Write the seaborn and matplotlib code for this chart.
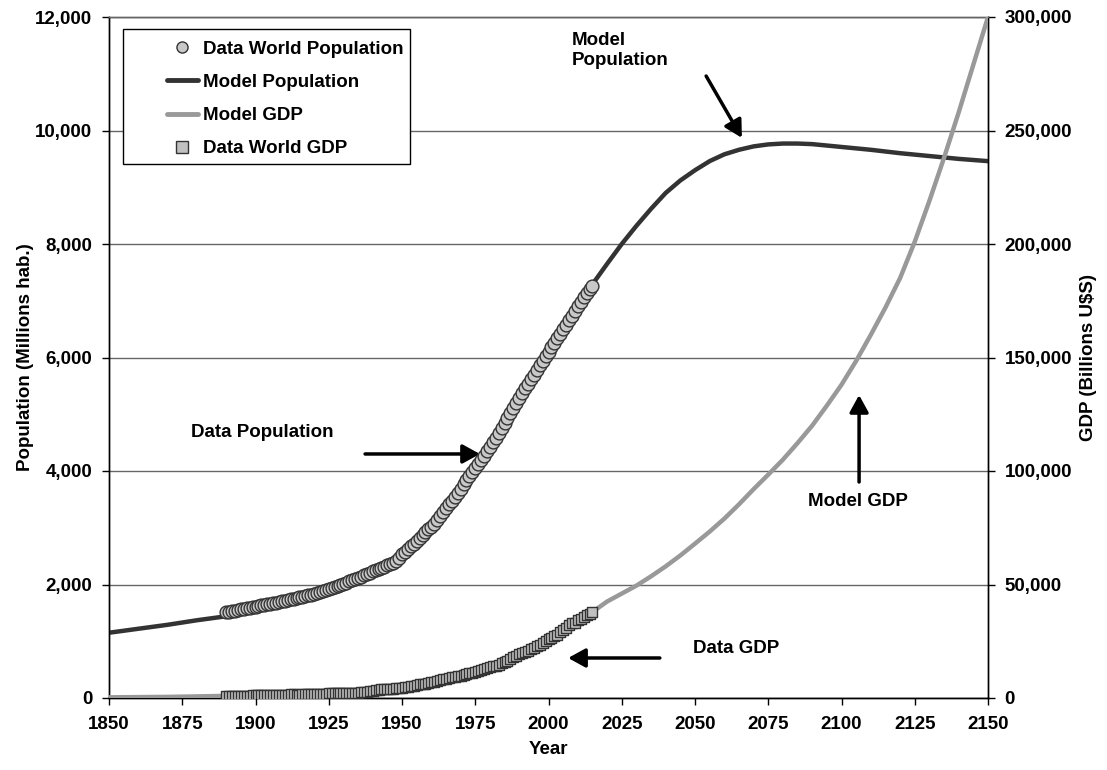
import matplotlib
matplotlib.use("Agg")
import matplotlib.pyplot as plt
import seaborn as sns
import pandas as pd
from matplotlib.lines import Line2D
from matplotlib.patches import Rectangle
from matplotlib.ticker import FuncFormatter

# --- Model curves (every 5 years) ---
model_years = list(range(1850, 2151, 5))

model_population = [
    1150, 1185, 1220, 1255, 1290, 1330, 1370, 1405, 1440, 1500,   # 1850-1895
    1560, 1625, 1690, 1760, 1830, 1910, 2000, 2105, 2220, 2360,   # 1900-1945
    2540, 2770, 3030, 3350, 3700, 4080, 4470, 4890, 5320, 5740,   # 1950-1995
    6140, 6540, 6920, 7290, 7650, 8000, 8320, 8620, 8900, 9120,   # 2000-2045
    9300, 9460, 9580, 9660, 9720, 9755, 9770, 9770, 9760, 9735,   # 2050-2095
    9710, 9685, 9660, 9630, 9600, 9575, 9550, 9525, 9500, 9480,   # 2100-2145
    9460,                                                         # 2150
]

model_gdp = [
    300, 350, 400, 450, 500, 600, 700, 820, 950, 1100,                       # 1850-1895
    1300, 1500, 1700, 1750, 1900, 2150, 2400, 2650, 3000, 3500,              # 1900-1945
    4300, 5300, 6600, 8100, 9800, 11800, 14000, 16600, 19500, 22600,         # 1950-1995
    26000, 29600, 33500, 37900, 42500, 46000, 49500, 53600, 58000, 62800,    # 2000-2045
    68000, 73300, 79000, 85300, 92000, 98400, 105000, 112300, 120000, 128800,  # 2050-2095
    138000, 148500, 160000, 172000, 185000, 201000, 219000, 238000, 258000, 279000,  # 2100-2145
    300000,                                                                  # 2150
]

# --- Observed data, one point per year 1890-2015 ---
data_years = list(range(1890, 2016))

data_population = [
    1510, 1520, 1530, 1540, 1550, 1560, 1570, 1580, 1590, 1600,   # 1890s
    1610, 1620, 1630, 1640, 1650, 1660, 1670, 1680, 1692, 1704,   # 1900s
    1716, 1728, 1740, 1752, 1764, 1776, 1788, 1800, 1810, 1820,   # 1910s
    1835, 1850, 1865, 1880, 1895, 1915, 1935, 1955, 1975, 1995,   # 1920s
    2015, 2035, 2055, 2075, 2095, 2115, 2135, 2160, 2185, 2210,   # 1930s
    2235, 2255, 2275, 2295, 2315, 2335, 2360, 2385, 2420, 2470,   # 1940s
    2530, 2570, 2620, 2670, 2720, 2770, 2820, 2870, 2920, 2970,   # 1950s
    3020, 3070, 3130, 3200, 3270, 3340, 3410, 3480, 3550, 3620,   # 1960s
    3690, 3770, 3850, 3920, 3990, 4060, 4130, 4200, 4270, 4350,   # 1970s
    4430, 4510, 4590, 4670, 4750, 4840, 4930, 5020, 5110, 5200,   # 1980s
    5290, 5380, 5460, 5540, 5620, 5700, 5780, 5860, 5940, 6020,   # 1990s
    6100, 6180, 6260, 6340, 6420, 6500, 6580, 6660, 6740, 6820,   # 2000s
    6900, 6980, 7060, 7130, 7200, 7260,                           # 2010s
]

data_gdp = [
    900, 920, 940, 960, 980, 1000, 1030, 1060, 1090, 1120,            # 1890s
    1150, 1180, 1210, 1240, 1270, 1300, 1350, 1380, 1350, 1420,       # 1900s
    1460, 1500, 1550, 1600, 1540, 1520, 1580, 1600, 1620, 1600,       # 1910s
    1650, 1700, 1800, 1900, 1980, 2080, 2150, 2200, 2260, 2330,       # 1920s
    2230, 2150, 2050, 2080, 2200, 2350, 2550, 2700, 2750, 2950,       # 1930s
    3300, 3500, 3700, 3900, 4100, 4000, 3900, 4000, 4200, 4400,       # 1940s
    4600, 4850, 5050, 5250, 5450, 5750, 6000, 6200, 6350, 6650,       # 1950s
    6900, 7150, 7450, 7750, 8150, 8450, 8800, 9050, 9400, 9800,       # 1960s
    9900, 10250, 10600, 10950, 11150, 11300, 11800, 12300, 12800, 13200,  # 1970s
    13500, 13900, 14200, 14700, 15300, 15900, 16500, 17200, 17900, 18700,  # 1980s
    19500, 19900, 20400, 20900, 21500, 22100, 22800, 23500, 24100, 24900,  # 1990s
    26000, 26500, 27100, 27800, 28900, 29900, 31000, 32300, 33000, 32900,  # 2000s
    34200, 35000, 35700, 36400, 37200, 37900,                          # 2010s
]

DARK = "#333333"
LIGHT = "#999999"
CIRCLE_FILL = "#c8c8c8"
SQUARE_FILL = "#c0c0c0"

sns.set_style("ticks")
plt.rcParams['font.family'] = ['Liberation Sans', 'DejaVu Sans']
plt.rcParams['font.weight'] = 'bold'
plt.rcParams['axes.labelweight'] = 'bold'
plt.rcParams['font.size'] = 13.5
plt.rcParams['text.color'] = 'black'
plt.rcParams['axes.labelcolor'] = 'black'
plt.rcParams['xtick.color'] = 'black'
plt.rcParams['ytick.color'] = 'black'

fig, ax = plt.subplots(figsize=(11.07, 7.7), dpi=100)
fig.subplots_adjust(left=109 / 1107, right=988 / 1107, top=1 - 17 / 770, bottom=1 - 698 / 770)
ax2 = ax.twinx()

pop_model_df = pd.DataFrame({'year': model_years, 'pop': model_population})
gdp_model_df = pd.DataFrame({'year': model_years, 'gdp': model_gdp})
data_df = pd.DataFrame({'year': data_years, 'pop': data_population, 'gdp': data_gdp})

# population on the left axis
sns.lineplot(data=pop_model_df, x='year', y='pop', ax=ax, color=DARK, lw=3.2, zorder=3)
sns.scatterplot(data=data_df, x='year', y='pop', ax=ax, marker='o', s=85,
                color=CIRCLE_FILL, edgecolor=DARK, linewidth=1, zorder=4)

# GDP on the right axis
sns.lineplot(data=gdp_model_df, x='year', y='gdp', ax=ax2, color=LIGHT, lw=3.2, zorder=3)
sns.scatterplot(data=data_df, x='year', y='gdp', ax=ax2, marker='s', s=62,
                color=SQUARE_FILL, edgecolor=DARK, linewidth=1, zorder=4)

# axes
ax.set_xlim(1850, 2150)
ax.set_ylim(0, 12000)
ax2.set_ylim(0, 300000)
ax.set_xticks(range(1850, 2151, 25))
ax.set_yticks(range(0, 12001, 2000))
ax2.set_yticks(range(0, 300001, 50000))
fmt = FuncFormatter(lambda v, p: f"{int(v):,}")
ax.yaxis.set_major_formatter(fmt)
ax2.yaxis.set_major_formatter(fmt)

ax.yaxis.grid(True, color='#666666', lw=1)
ax.set_axisbelow(True)

for a in (ax, ax2):
    a.tick_params(direction='out', length=5, width=1, pad=7, labelsize=13.5, colors='black')
    for side in ('left', 'right', 'bottom'):
        a.spines[side].set_color('black')
        a.spines[side].set_linewidth(1)
    a.spines['top'].set_color('#666666')
    a.spines['top'].set_linewidth(1)
ax.tick_params(axis='x', pad=8)

ax.set_xlabel('Year', fontsize=13.5, fontweight='bold')
ax.set_ylabel('Population (Millions hab.)', fontsize=13.5, fontweight='bold')
ax2.set_ylabel(r'GDP (Billions U\$S)', fontsize=13.5, fontweight='bold')
ax.xaxis.set_label_coords(0.5, -0.063)
ax.yaxis.set_label_coords(-0.085, 0.5)
ax2.yaxis.set_label_coords(1.105, 0.5)

# annotations
arrow = dict(arrowstyle='-|>,head_length=0.4,head_width=0.22', color='black',
             lw=2.5, mutation_scale=26, shrinkA=0, shrinkB=0)
ax.annotate('', xy=(2066, 9870), xytext=(2053.8, 10960), arrowprops=arrow)
ax.text(2008, 11740, 'Model\nPopulation', ha='left', va='top', linespacing=1.25)

ax.annotate('', xy=(1976.6, 4300), xytext=(1937.4, 4300), arrowprops=arrow)
ax.text(1902.2, 4670, 'Data Population', ha='center', va='center')

ax.annotate('', xy=(2006.7, 705), xytext=(2038, 705), arrowprops=arrow)
ax.text(2049.3, 881, 'Data GDP', ha='left', va='center')

ax.annotate('', xy=(2106, 5339), xytext=(2106, 3806), arrowprops=arrow)
ax.text(2105.6, 3454, 'Model GDP', ha='center', va='center')

# legend with a framed white box
ax2.add_patch(Rectangle((0.0159, 0.7841), 0.3265, 0.1983, transform=ax2.transAxes,
                        fc='white', ec='black', lw=1, zorder=6))
handles = [
    Line2D([], [], marker='o', ls='none', mfc=CIRCLE_FILL, mec=DARK, ms=8),
    Line2D([], [], color=DARK, lw=3.5),
    Line2D([], [], color=LIGHT, lw=3.5),
    Line2D([], [], marker='s', ls='none', mfc=SQUARE_FILL, mec=DARK, ms=8),
]
labels = ['Data World Population', 'Model Population', 'Model GDP', 'Data World GDP']
leg = ax2.legend(handles, labels, loc='upper left', bbox_to_anchor=(0.066, 0.965),
                 frameon=False, borderpad=0, borderaxespad=0, handlelength=1.65,
                 handletextpad=0.27, labelspacing=0.85, fontsize=13.5)
leg.set_zorder(7)

fig.savefig('out.png', dpi=100)
